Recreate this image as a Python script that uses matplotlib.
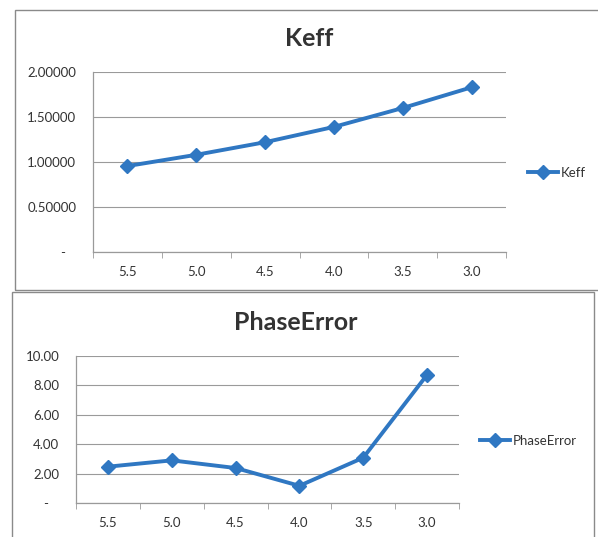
import matplotlib.pyplot as plt
from matplotlib.patches import Rectangle
from matplotlib.lines import Line2D

W, H = 598, 537

categories = ['5.5', '5.0', '4.5', '4.0', '3.5', '3.0']
keff = [0.955, 1.08, 1.22, 1.39, 1.60, 1.83]
phase_error = [2.47, 2.90, 2.38, 1.17, 3.08, 8.72]

keff_ticks = [0, 0.5, 1.0, 1.5, 2.0]
keff_labels = ['-   ', '0.50000', '1.00000', '1.50000', '2.00000']
pe_ticks = [0, 2, 4, 6, 8, 10]
pe_labels = ['-   ', '2.00', '4.00', '6.00', '8.00', '10.00']

BLUE = '#2f77c2'
GRID = '#9a9a9a'
TXT = '#333333'
FS = 9.5

plt.rcParams['font.family'] = ['Lato', 'DejaVu Sans']

fig = plt.figure(figsize=(W / 100, H / 100), dpi=100)


def px_axes(x0, y0, x1, y1):
    return fig.add_axes([x0 / W, 1 - y1 / H, (x1 - x0) / W, (y1 - y0) / H])


def frame(x0, y0, x1, y1):
    fig.patches.append(Rectangle((x0 / W, 1 - y1 / H), (x1 - x0) / W, (y1 - y0) / H,
                                 transform=fig.transFigure, fill=False,
                                 edgecolor='#8a8a8a', lw=1.0))


def draw(ax, values, ticks, labels):
    x = list(range(len(categories)))
    ax.plot(x, values, color=BLUE, lw=2.8, marker='D', ms=7)
    ax.set_xlim(-0.5, len(categories) - 0.5)
    ax.set_ylim(ticks[0], ticks[-1])
    ax.set_yticks(ticks)
    ax.set_yticklabels(labels)
    ax.set_xticks(x)
    ax.set_xticklabels(categories)
    ax.set_xticks([i - 0.5 for i in range(len(categories) + 1)], minor=True)
    ax.tick_params(axis='x', which='major', length=0, pad=10, labelsize=FS, labelcolor=TXT)
    ax.tick_params(axis='x', which='minor', length=4, color=GRID, direction='out')
    ax.tick_params(axis='y', length=0, pad=12, labelsize=FS, labelcolor=TXT)
    ax.grid(axis='y', color=GRID, lw=0.8)
    ax.set_axisbelow(True)
    for s in ['top', 'right']:
        ax.spines[s].set_visible(False)
    for s in ['left', 'bottom']:
        ax.spines[s].set_color(GRID)
        ax.spines[s].set_linewidth(0.9)


def legend(label, x, y):
    h = Line2D([], [], color=BLUE, lw=2.8, marker='D', ms=7)
    fig.legend([h], [label], loc='center left', bbox_to_anchor=(x / W, 1 - y / H),
               frameon=False, fontsize=FS, handlelength=2.3, handletextpad=0.2,
               borderpad=0, borderaxespad=0, labelcolor=TXT)


# top chart: Keff
frame(15, 10, 605, 290)
ax1 = px_axes(93, 72, 506, 252)
draw(ax1, keff, keff_ticks, keff_labels)
fig.text(309 / W, 1 - 38 / H, 'Keff', ha='center', va='center',
         fontsize=18, fontweight='bold', color=TXT)
legend('Keff', 528, 173)

# bottom chart: PhaseError
frame(12, 292, 594, 545)
ax2 = px_axes(76, 356, 459, 503)
draw(ax2, phase_error, pe_ticks, pe_labels)
fig.text(296 / W, 1 - 323 / H, 'PhaseError', ha='center', va='center',
         fontsize=18, fontweight='bold', color=TXT)
legend('PhaseError', 480, 441)

fig.savefig('out.png', dpi=100)
